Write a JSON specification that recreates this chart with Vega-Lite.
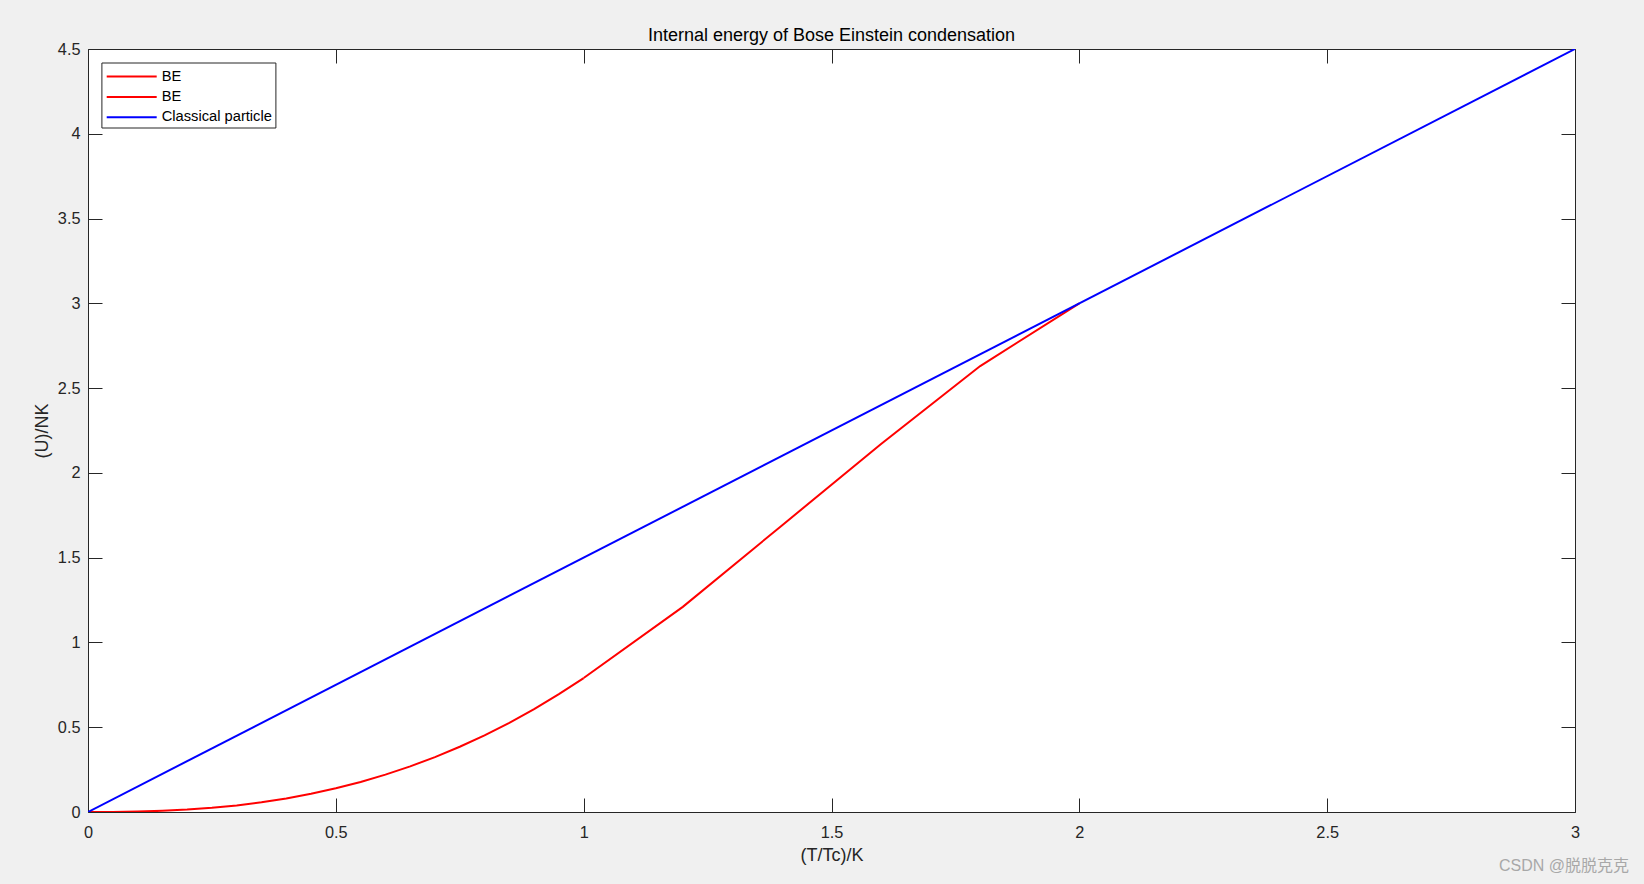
{
  "$schema": "https://vega.github.io/schema/vega-lite/v6.json",
  "width": 1487,
  "height": 763,
  "autosize": {"type": "none"},
  "padding": {"left": 88, "top": 49, "right": 69, "bottom": 72},
  "background": "#f0f0f0",
  "title": {
    "text": "Internal energy of Bose Einstein condensation",
    "font": "Liberation Sans",
    "fontSize": 18,
    "fontWeight": "normal",
    "color": "#000000",
    "anchor": "middle",
    "frame": "group",
    "baseline": "alphabetic",
    "offset": 8,
    "dy": 26
  },
  "config": {
    "view": {"stroke": "#262626", "strokeWidth": 1, "fill": "#ffffff"},
    "font": "Liberation Sans",
    "axis": {
      "domain": false,
      "grid": false,
      "tickColor": "#262626",
      "tickWidth": 1,
      "tickSize": -14,
      "labelFlush": false,
      "labelOverlap": false,
      "labelColor": "#262626",
      "labelFont": "Liberation Sans",
      "labelFontSize": 16.3,
      "titleFont": "Liberation Sans",
      "titleFontSize": 18,
      "titleFontWeight": "normal",
      "titleColor": "#262626"
    }
  },
  "datasets": {
    "be_low": [
      {"s": "BE (T<Tc)", "t": 0, "u": 0},
      {"s": "BE (T<Tc)", "t": 0.05, "u": 0.0004},
      {"s": "BE (T<Tc)", "t": 0.1, "u": 0.0025},
      {"s": "BE (T<Tc)", "t": 0.15, "u": 0.0069},
      {"s": "BE (T<Tc)", "t": 0.2, "u": 0.0141},
      {"s": "BE (T<Tc)", "t": 0.25, "u": 0.0247},
      {"s": "BE (T<Tc)", "t": 0.3, "u": 0.0389},
      {"s": "BE (T<Tc)", "t": 0.35, "u": 0.0573},
      {"s": "BE (T<Tc)", "t": 0.4, "u": 0.08},
      {"s": "BE (T<Tc)", "t": 0.45, "u": 0.1073},
      {"s": "BE (T<Tc)", "t": 0.5, "u": 0.1397},
      {"s": "BE (T<Tc)", "t": 0.55, "u": 0.1772},
      {"s": "BE (T<Tc)", "t": 0.6, "u": 0.2203},
      {"s": "BE (T<Tc)", "t": 0.65, "u": 0.2691},
      {"s": "BE (T<Tc)", "t": 0.7, "u": 0.3239},
      {"s": "BE (T<Tc)", "t": 0.75, "u": 0.3848},
      {"s": "BE (T<Tc)", "t": 0.8, "u": 0.4522},
      {"s": "BE (T<Tc)", "t": 0.85, "u": 0.5262},
      {"s": "BE (T<Tc)", "t": 0.9, "u": 0.6071},
      {"s": "BE (T<Tc)", "t": 0.95, "u": 0.6949},
      {"s": "BE (T<Tc)", "t": 1.0, "u": 0.79}
    ],
    "be_high": [
      {"s": "BE (T>Tc)", "t": 1.0, "u": 0.79},
      {"s": "BE (T>Tc)", "t": 1.2, "u": 1.21},
      {"s": "BE (T>Tc)", "t": 1.4, "u": 1.69},
      {"s": "BE (T>Tc)", "t": 1.6, "u": 2.17},
      {"s": "BE (T>Tc)", "t": 1.8, "u": 2.63},
      {"s": "BE (T>Tc)", "t": 2.0, "u": 3.0}
    ],
    "classical": [
      {"s": "Classical particle", "t": 0, "u": 0},
      {"s": "Classical particle", "t": 3, "u": 4.5}
    ],
    "wm": [{"label": "CSDN @脱脱克克", "t": 3, "u": 0}]
  },
  "resolve": {"axis": {"x": "independent", "y": "independent"}},
  "layer": [
    {
      "data": {"name": "be_low"},
      "mark": {"type": "line", "strokeWidth": 2, "clip": true},
      "encoding": {
        "x": {
          "field": "t", "type": "quantitative",
          "scale": {"domain": [0, 3], "nice": false, "zero": false},
          "axis": {"orient": "bottom", "title": "(T/Tc)/K", "values": [0, 0.5, 1, 1.5, 2, 2.5, 3], "format": "~g", "labelPadding": 26, "titlePadding": 6}
        },
        "y": {
          "field": "u", "type": "quantitative",
          "scale": {"domain": [0, 4.5], "nice": false, "zero": false},
          "axis": {"orient": "left", "title": "(U)/NK", "values": [0, 0.5, 1, 1.5, 2, 2.5, 3, 3.5, 4, 4.5], "format": "~g", "labelPadding": 22, "titlePadding": 6}
        },
        "color": {
          "field": "s", "type": "nominal",
          "scale": {"domain": ["BE (T<Tc)", "BE (T>Tc)", "Classical particle"], "range": ["#ff0000", "#ff0000", "#0000ff"]},
          "legend": {
            "title": null,
            "orient": "none",
            "legendX": 13.4,
            "legendY": 13.5,
            "direction": "vertical",
            "fillColor": "#ffffff",
            "strokeColor": "#262626",
            "padding": 3,
            "cornerRadius": 0,
            "symbolType": "M-0.87,0H4.13",
            "symbolSize": 400,
            "symbolStrokeWidth": 2,
            "symbolFillColor": "transparent",
            "labelFont": "Liberation Sans",
            "labelFontSize": 14.7,
            "labelColor": "#000000",
            "labelOffset": 35.3,
            "rowPadding": 2.4,
            "labelExpr": "datum.label == 'Classical particle' ? 'Classical particle' : 'BE'"
          }
        }
      }
    },
    {
      "data": {"name": "be_high"},
      "mark": {"type": "line", "strokeWidth": 2, "clip": true},
      "encoding": {
        "x": {"field": "t", "type": "quantitative", "axis": {"orient": "top", "labels": false, "title": null, "minExtent": 0, "maxExtent": 0, "values": [0, 0.5, 1, 1.5, 2, 2.5, 3]}},
        "y": {"field": "u", "type": "quantitative", "axis": {"orient": "right", "labels": false, "title": null, "minExtent": 0, "maxExtent": 0, "values": [0, 0.5, 1, 1.5, 2, 2.5, 3, 3.5, 4, 4.5]}},
        "color": {"field": "s", "type": "nominal"}
      }
    },
    {
      "data": {"name": "classical"},
      "mark": {"type": "line", "strokeWidth": 2, "clip": true},
      "encoding": {
        "x": {"field": "t", "type": "quantitative", "axis": null},
        "y": {"field": "u", "type": "quantitative", "axis": null},
        "color": {"field": "s", "type": "nominal"}
      }
    },
    {
      "data": {"name": "wm"},
      "mark": {"type": "text", "align": "right", "baseline": "middle", "dx": 54, "dy": 54, "fontSize": 16, "font": "Liberation Sans, Noto Sans CJK SC", "color": "#a8a8a8"},
      "encoding": {
        "x": {"field": "t", "type": "quantitative", "axis": null},
        "y": {"field": "u", "type": "quantitative", "axis": null},
        "text": {"field": "label"}
      }
    }
  ]
}
